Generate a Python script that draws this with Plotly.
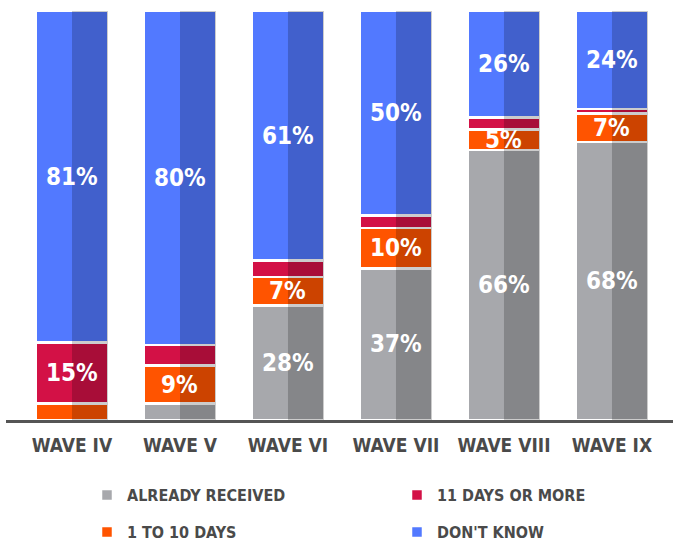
import plotly.graph_objects as go

FONT = "DejaVu Sans Condensed, Open Sans"
TEXT_COLOR = "#4a4a4a"
AXIS_COLOR = "#555555"
SHADE = "rgba(0,0,0,0.2)"
BAR_WIDTH = 0.667

waves = ["WAVE IV", "WAVE V", "WAVE VI", "WAVE VII", "WAVE VIII", "WAVE IX"]

already_received = [0, 4, 28, 37, 66, 68]
one_to_ten_days = [4, 9, 7, 10, 5, 7]
eleven_days_or_more = [15, 5, 4, 3, 3, 1]
dont_know = [81, 80, 61, 50, 26, 24]

# name, values, colour, legend rank, smallest labelled value, legend id
series = [
    ("ALREADY RECEIVED", already_received, "#a7a8ac", 1, 5, "legend"),
    ("1 TO 10 DAYS", one_to_ten_days, "#ff5400", 3, 5, "legend2"),
    ("11 DAYS OR MORE", eleven_days_or_more, "#d31146", 2, 6, "legend"),
    ("DON'T KNOW", dont_know, "#5279ff", 4, 5, "legend2"),
]


def font(size, color):
    return dict(family=FONT, size=size, color=color, weight="bold")


def create_figure():
    figure = go.Figure()

    for name, values, color, rank, min_label, legend in series:
        figure.add_trace(
            go.Bar(
                x=waves,
                y=values,
                name=name,
                width=BAR_WIDTH,
                marker=dict(color=color, line=dict(color="white", width=2.5)),
                legendrank=rank,
                legend=legend,
                hoverinfo="skip",
            )
        )

    # labels, centred in every segment of the normalised stack
    totals = [sum(s[1][i] for s in series) for i in range(len(waves))]
    annotations = []
    for i, wave in enumerate(waves):
        base = 0.0
        for name, values, color, rank, min_label, legend in series:
            height = values[i] * 100.0 / totals[i]
            if values[i] >= min_label:
                annotations.append(
                    dict(
                        x=i,
                        y=base + height / 2,
                        text="{0}%".format(values[i]),
                        showarrow=False,
                        font=font(24, "white"),
                    )
                )
            base += height

    # darker right half of every bar
    shapes = [
        dict(
            type="rect",
            xref="x",
            yref="y",
            x0=i,
            x1=i + BAR_WIDTH / 2,
            y0=0,
            y1=100,
            fillcolor=SHADE,
            line=dict(width=0),
            layer="above",
        )
        for i in range(len(waves))
    ]

    legend_style = dict(
        orientation="h",
        traceorder="normal",
        xref="container",
        yref="container",
        x=87 / 673,
        xanchor="left",
        yanchor="middle",
        entrywidth=265,
        entrywidthmode="pixels",
        font=font(16, TEXT_COLOR),
        bgcolor="rgba(0,0,0,0)",
    )

    figure.update_layout(
        barmode="stack",
        barnorm="percent",
        width=673,
        height=543,
        margin=dict(l=6, r=0, t=11, b=123),
        paper_bgcolor="white",
        plot_bgcolor="white",
        showlegend=True,
        legend=dict(legend_style, y=1 - 495 / 543),
        legend2=dict(legend_style, y=1 - 532 / 543),
        annotations=annotations,
        shapes=shapes,
    )
    figure.update_xaxes(
        range=[-0.611, 5.565],
        showline=True,
        linecolor=AXIS_COLOR,
        linewidth=3,
        ticks="outside",
        ticklen=6,
        tickcolor="rgba(0,0,0,0)",
        tickfont=font(19, TEXT_COLOR),
        showgrid=False,
    )
    figure.update_yaxes(range=[0, 100], visible=False, showgrid=False)
    return figure


fig = create_figure()
# the page body has a default margin that would shift the figure
fig.write_html(
    "out.html",
    config={"displayModeBar": False},
    post_script="document.body.style.margin = '0';",
)
